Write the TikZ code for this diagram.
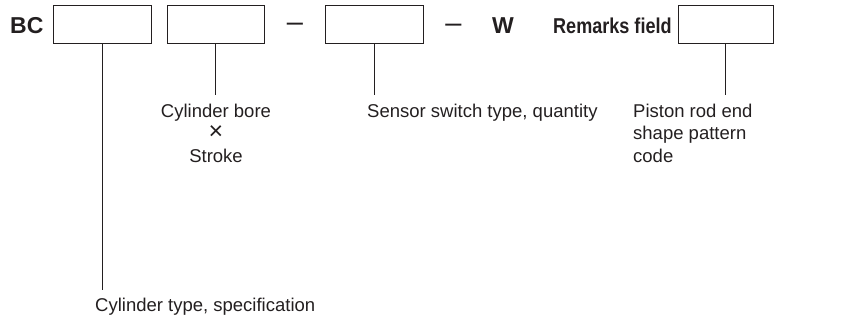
\documentclass[tikz,border=0pt]{standalone}
\usepackage{fontspec}
\setmainfont{Liberation Sans}
\newfontfamily\narrowsans[FakeStretch=0.84]{Liberation Sans}
\usepackage{xcolor}
\definecolor{codeink}{HTML}{231F20}

\begin{document}
\begin{tikzpicture}[
  x=1pt,
  y=-1pt,
  every node/.style={codeink, inner sep=0pt},
  fieldbox/.style={draw=codeink, line width=0.8pt, minimum height=38pt},
  leader/.style={codeink, line width=0.8pt},
  boldmark/.style={font=\fontsize{23}{25}\selectfont\bfseries, anchor=base west},
  joiner/.style={font=\fontsize{29}{30}\selectfont, anchor=base},
  caption/.style={font=\fontsize{18.5}{22.5}\selectfont}
]
  \useasboundingbox (0,0) rectangle (842,322);

  % ---- the order code line ---------------------------------------------
  \node[boldmark] (bc) at (10,33) {BC};
  \node[fieldbox, minimum width=98pt] (type) at (102,24) {};
  \node[fieldbox, minimum width=97pt] (bore) at (215.5,24) {};
  \node[joiner] (dashA) at (295,31.5) {–};
  \node[fieldbox, minimum width=98pt] (sensor) at (374,24) {};
  \node[joiner] (dashB) at (453.5,32) {–};
  \node[boldmark] (w) at (492,33) {W};
  \node[boldmark, font=\fontsize{21.5}{24}\narrowsans\bfseries] (remarks)
    at (553,33) {Remarks field};
  \node[fieldbox, minimum width=95pt] (rod) at (725.5,24) {};

  % ---- what each field means -------------------------------------------
  \node[caption, anchor=north west] (typeText) at (95,297.5)
    {Cylinder type, specification};
  \node[caption, anchor=north, align=center] (boreText) at (216,103.5)
    {Cylinder bore\\{\fontsize{25}{22.5}\selectfont ×}\\Stroke};
  \node[caption, anchor=north west] (sensorText) at (367,103.5)
    {Sensor switch type, quantity};
  \node[caption, anchor=north west, align=left] (rodText) at (633,103.5)
    {Piston rod end\\shape pattern\\code};

  % ---- leaders from the boxes ------------------------------------------
  \draw[leader] (type.south) -- ([yshift=7.5pt]type.south |- typeText.north);
  \draw[leader] (bore.south) -- ([yshift=8.5pt]bore.south |- boreText.north);
  \draw[leader] (sensor.south)
    -- ([yshift=8.5pt]sensor.south |- sensorText.north);
  \draw[leader] (rod.south) -- ([yshift=8.5pt]rod.south |- rodText.north);
\end{tikzpicture}
\end{document}
